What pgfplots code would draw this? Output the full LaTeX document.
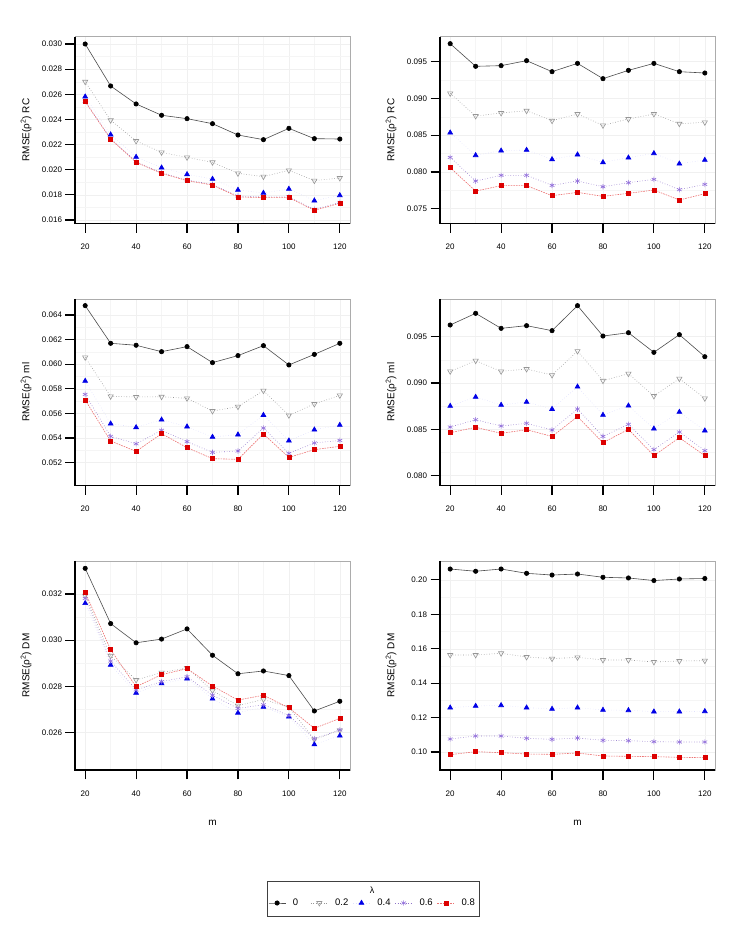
\documentclass[border=0pt]{standalone}
\usepackage{pgfplots}
\usepackage{pgfplotstable}
\pgfplotsset{compat=1.18}
\usepackage{fontspec}
\setmainfont{Liberation Sans}

\definecolor{lamB}{RGB}{150,150,150}
\definecolor{lamC}{RGB}{0,0,230}
\definecolor{lamD}{RGB}{147,112,219}
\definecolor{lamE}{RGB}{220,0,0}

% RMSE of rho^2, columns: m, lambda = 0, 0.2, 0.4, 0.6, 0.8
\pgfplotstableread{
m l0 l2 l4 l6 l8
20 0.03000 0.02700 0.02581 0.02545 0.02541
30 0.02666 0.02393 0.02279 0.02248 0.02242
40 0.02523 0.02228 0.02101 0.02064 0.02059
50 0.02433 0.02138 0.02016 0.01976 0.01971
60 0.02406 0.02098 0.01963 0.01918 0.01913
70 0.02366 0.02059 0.01926 0.01883 0.01878
80 0.02276 0.01971 0.01839 0.01790 0.01783
90 0.02239 0.01945 0.01815 0.01784 0.01778
100 0.02329 0.01995 0.01847 0.01784 0.01778
110 0.02247 0.01913 0.01754 0.01684 0.01677
120 0.02244 0.01934 0.01796 0.01740 0.01733
}\rcA
\pgfplotstableread{
m l0 l2 l4 l6 l8
20 0.09745 0.09069 0.08534 0.08198 0.08058
30 0.09437 0.08761 0.08226 0.07876 0.07740
40 0.09446 0.08802 0.08289 0.07954 0.07813
50 0.09514 0.08833 0.08298 0.07954 0.07813
60 0.09364 0.08697 0.08171 0.07817 0.07677
70 0.09477 0.08788 0.08235 0.07876 0.07722
80 0.09269 0.08634 0.08130 0.07799 0.07668
90 0.09382 0.08720 0.08194 0.07854 0.07709
100 0.09477 0.08788 0.08253 0.07899 0.07754
110 0.09364 0.08656 0.08112 0.07759 0.07618
120 0.09346 0.08675 0.08162 0.07831 0.07704
}\rcB
\pgfplotstableread{
m l0 l2 l4 l6 l8
20 0.06476 0.06056 0.05864 0.05755 0.05709
30 0.06170 0.05739 0.05517 0.05414 0.05376
40 0.06154 0.05734 0.05487 0.05354 0.05292
50 0.06102 0.05736 0.05549 0.05463 0.05436
60 0.06143 0.05723 0.05493 0.05371 0.05322
70 0.06013 0.05620 0.05409 0.05284 0.05233
80 0.06070 0.05655 0.05428 0.05295 0.05227
90 0.06151 0.05785 0.05587 0.05482 0.05433
100 0.05994 0.05585 0.05379 0.05276 0.05243
110 0.06080 0.05677 0.05468 0.05360 0.05306
120 0.06170 0.05747 0.05506 0.05381 0.05333
}\mlA
\pgfplotstableread{
m l0 l2 l4 l6 l8
20 0.09626 0.09126 0.08752 0.08525 0.08464
30 0.09752 0.09241 0.08849 0.08604 0.08522
40 0.09590 0.09126 0.08763 0.08536 0.08457
50 0.09619 0.09151 0.08795 0.08565 0.08496
60 0.09565 0.09086 0.08719 0.08493 0.08424
70 0.09835 0.09345 0.08960 0.08719 0.08637
80 0.09507 0.09025 0.08655 0.08424 0.08356
90 0.09543 0.09101 0.08755 0.08554 0.08500
100 0.09331 0.08860 0.08507 0.08281 0.08216
110 0.09522 0.09047 0.08687 0.08471 0.08410
120 0.09284 0.08835 0.08486 0.08270 0.08216
}\mlB
\pgfplotstableread{
m l0 l2 l4 l6 l8
20 0.03311 0.03193 0.03160 0.03181 0.03207
30 0.03072 0.02933 0.02893 0.02910 0.02959
40 0.02989 0.02828 0.02772 0.02785 0.02799
50 0.03005 0.02860 0.02813 0.02821 0.02851
60 0.03049 0.02880 0.02834 0.02842 0.02877
70 0.02935 0.02782 0.02747 0.02762 0.02802
80 0.02855 0.02717 0.02686 0.02705 0.02741
90 0.02867 0.02744 0.02711 0.02721 0.02762
100 0.02847 0.02710 0.02669 0.02674 0.02708
110 0.02694 0.02571 0.02549 0.02574 0.02619
120 0.02736 0.02610 0.02587 0.02612 0.02662
}\dmA
\pgfplotstableread{
m l0 l2 l4 l6 l8
20 0.2063 0.15637 0.12576 0.10755 0.09845
30 0.2050 0.15637 0.12673 0.10930 0.10019
40 0.2063 0.15734 0.12712 0.10930 0.09961
50 0.2038 0.15521 0.12576 0.10794 0.09884
60 0.2028 0.15424 0.12499 0.10736 0.09864
70 0.2034 0.15501 0.12576 0.10813 0.09942
80 0.2015 0.15346 0.12441 0.10678 0.09768
90 0.2011 0.15346 0.12421 0.10658 0.09749
100 0.1996 0.15230 0.12344 0.10600 0.09729
110 0.2005 0.15288 0.12344 0.10581 0.09691
120 0.2008 0.15307 0.12363 0.10581 0.09671
}\dmB

\pgfplotsset{
  sA/.style={color=black!70, solid, line width=0.6pt, mark=*, mark size=2.2pt,
    mark options={solid, fill=black, draw=black}},
  sB/.style={color=lamB, dotted, line width=0.6pt, mark=triangle, mark size=3pt,
    mark options={solid, rotate=180, draw=lamB, fill=white}},
  sC/.style={color=lamC!12, dotted, line width=0.6pt, mark=triangle*, mark size=2.8pt,
    mark options={solid, fill=lamC, draw=lamC}},
  sD/.style={color=lamD!80!gray, dotted, line width=0.6pt, mark=asterisk, mark size=2.7pt,
    mark options={solid, draw=lamD}},
  sE/.style={color=lamE!55, dash pattern=on 1.6pt off 1pt, line width=0.6pt, mark=square*, mark size=2pt,
    mark options={solid, fill=lamE, draw=lamE}},
  panel/.style={
    scale only axis, width=275pt,
    xmin=16, xmax=124, xtick={20,40,...,120},
    minor x tick num=1, minor y tick num=1,
    grid=both, major grid style={gray!12, line width=0.4pt},
    minor grid style={gray!8, line width=0.4pt},
    axis line style={gray!65, line width=0.9pt},
    tick pos=left, tick align=outside,
    major tick length=9.5pt, minor tick length=0pt,
    tick style={black, line width=1.2pt},
    tick label style={font=\fontsize{8}{9}\selectfont, black},
    xticklabel style={yshift=-7.5pt},
    /pgf/number format/assume math mode=true,
    scaled y ticks=false,
    yticklabel style={/pgf/number format/.cd, fixed, fixed zerofill, precision=3},
    label style={font=\fontsize{8}{9}\selectfont},
    every axis y label/.style={at={(axis description cs:-0.178,0.5)}, rotate=90, anchor=center},
    every axis x label/.style={at={(axis description cs:0.5,-0.2536)}, anchor=center},
    after end axis/.code={\draw[black, line width=1.3pt] (rel axis cs:0,1) -- (rel axis cs:0,0) -- (rel axis cs:1,0);},
  },
}

\newcommand{\allseries}[1]{%
  \addplot[sA] table[x=m, y=l0] {#1};
  \addplot[sB] table[x=m, y=l2] {#1};
  \addplot[sC] table[x=m, y=l4] {#1};
  \addplot[sD] table[x=m, y=l6] {#1};
  \addplot[sE] table[x=m, y=l8] {#1};
}

\begin{document}
\begin{tikzpicture}
\path[use as bounding box] (0pt,0pt) rectangle (748pt,936pt);

% row 1: RC
\begin{axis}[panel, at={(75pt,712.7pt)}, anchor=south west, height=186.6pt,
  ymin=0.015737, ymax=0.030581, ytick={0.016,0.018,...,0.0305},
  ylabel={RMSE(ρ\textsuperscript{2}) RC}]
  \allseries{\rcA}
\end{axis}
\begin{axis}[panel, at={(440pt,712.7pt)}, anchor=south west, height=186.6pt,
  ymin=0.073014, ymax=0.098401, ytick={0.075,0.080,...,0.0955},
  ylabel={RMSE(ρ\textsuperscript{2}) RC}]
  \allseries{\rcB}
\end{axis}

% row 2: ml
\begin{axis}[panel, at={(75pt,450.5pt)}, anchor=south west, height=186.5pt,
  ymin=0.050148, ymax=0.0653, ytick={0.052,0.054,...,0.0645},
  ylabel={RMSE(ρ\textsuperscript{2}) ml}]
  \allseries{\mlA}
\end{axis}
\begin{axis}[panel, at={(440pt,450.5pt)}, anchor=south west, height=186.5pt,
  ymin=0.078942, ymax=0.099068, ytick={0.080,0.085,...,0.0955},
  ylabel={RMSE(ρ\textsuperscript{2}) ml}]
  \allseries{\mlB}
\end{axis}

% row 3: DM
\begin{axis}[panel, at={(75pt,166pt)}, anchor=south west, height=209pt,
  ymin=0.024386, ymax=0.033428, ytick={0.026,0.028,...,0.0325},
  ylabel={RMSE(ρ\textsuperscript{2}) DM}, xlabel={m},
  legend columns=5,
  legend style={draw=none, fill=none, at={(axis description cs:1.0836,-0.6364)}, anchor=center,
    font=\fontsize{9.5}{10}\selectfont,
    /tikz/every odd column/.append style={column sep=5pt},
    /tikz/every even column/.append style={column sep=1.5pt}}]
  \allseries{\dmA}
  \legend{\makebox[14pt][l]{0},\makebox[14pt][l]{0.2},\makebox[14pt][l]{0.4},\makebox[14pt][l]{0.6},\makebox[14pt][l]{0.8}}
\end{axis}
\begin{axis}[panel, at={(440pt,166pt)}, anchor=south west, height=209pt,
  ymin=0.089545, ymax=0.21096, ytick={0.10,0.12,...,0.205},
  yticklabel style={/pgf/number format/.cd, fixed, fixed zerofill, precision=2},
  ylabel={RMSE(ρ\textsuperscript{2}) DM}, xlabel={m}]
  \allseries{\dmB}
\end{axis}

% legend frame and title
\draw[black!75, line width=0.8pt] (267pt,20pt) rectangle (479pt,55pt);
\node[font=\fontsize{9}{10}\selectfont] at (372pt,45.5pt) {λ};
\end{tikzpicture}
\end{document}
